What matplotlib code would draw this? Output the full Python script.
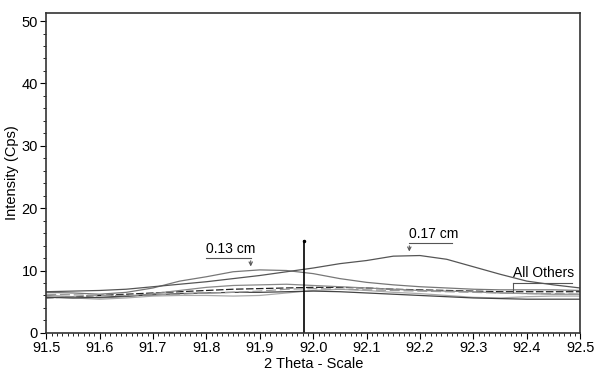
import numpy as np
import matplotlib.pyplot as plt
from matplotlib.ticker import MultipleLocator

plt.rcParams['font.family'] = ['Liberation Sans Narrow', 'Liberation Sans', 'DejaVu Sans']

theta = np.round(np.arange(91.5, 92.501, 0.05), 2)

cm013 = [6.5, 6.4, 6.2, 6.5, 7.2, 8.3, 9.0, 9.8, 10.1, 10.0, 9.5, 8.7, 8.1, 7.7, 7.4, 7.2, 7.0, 6.9, 6.9, 6.9, 6.8]
cm017 = [6.6, 6.7, 6.8, 7.0, 7.4, 7.8, 8.2, 8.7, 9.2, 9.8, 10.4, 11.1, 11.6, 12.3, 12.4, 11.8, 10.6, 9.4, 8.3, 7.7, 7.2]

others = [
    [5.6, 5.8, 6.0, 6.2, 6.4, 6.6, 6.8, 7.0, 7.1, 7.2, 7.3, 7.3, 7.2, 7.0, 6.9, 6.8, 6.7, 6.6, 6.6, 6.6, 6.6],
    [6.0, 5.8, 5.6, 5.8, 6.3, 6.8, 7.3, 7.6, 7.7, 7.8, 7.6, 7.4, 7.2, 7.0, 6.8, 6.7, 6.6, 6.4, 6.3, 6.2, 6.2],
    [5.8, 5.6, 5.4, 5.6, 5.9, 6.0, 6.0, 5.9, 6.0, 6.4, 6.8, 7.0, 6.8, 6.5, 6.3, 6.0, 5.7, 5.6, 5.8, 5.9, 5.9],
    [5.7, 5.6, 5.7, 5.9, 6.1, 6.3, 6.4, 6.5, 6.5, 6.6, 6.7, 6.6, 6.4, 6.2, 6.0, 5.8, 5.6, 5.5, 5.4, 5.4, 5.4],
    [6.2, 6.1, 6.0, 6.0, 6.1, 6.2, 6.4, 6.5, 6.7, 7.0, 7.1, 7.0, 6.9, 6.8, 6.7, 6.6, 6.5, 6.4, 6.3, 6.3, 6.2],
]
other_colors = ['#222222', '#888888', '#aaaaaa', '#444444', '#999999']
other_styles = [(0, (6, 2)), '-', '-', '-', (0, (8, 3))]

marker_x = 91.983
marker_top = 14.8

fig = plt.figure(figsize=(6, 3.8), dpi=100)
ax = fig.add_axes([0.077, 0.124, 0.89, 0.842])

for y, c, ls in zip(others, other_colors, other_styles):
    ax.plot(theta, y, color=c, lw=0.9, ls=ls)
ax.plot(theta, cm013, color='#777777', lw=0.9)
ax.plot(theta, cm017, color='#555555', lw=0.9)

ax.plot([marker_x, marker_x], [0, marker_top], color='black', lw=1.2)
ax.plot(marker_x, marker_top, marker='.', color='black', ms=3)

# labels with leader lines
ax.text(91.80, 12.4, '0.13 cm', fontsize=10, ha='left', va='bottom')
ax.plot([91.80, 91.883], [12.0, 12.0], color='#555555', lw=0.8)
ax.annotate('', xy=(91.883, 10.2), xytext=(91.883, 12.0),
            arrowprops=dict(arrowstyle='->', color='#555555', lw=0.8, mutation_scale=6))
ax.text(92.18, 14.7, '0.17 cm', fontsize=10, ha='left', va='bottom')
ax.plot([92.18, 92.26], [14.4, 14.4], color='#555555', lw=0.8)
ax.annotate('', xy=(92.18, 12.6), xytext=(92.18, 14.4),
            arrowprops=dict(arrowstyle='->', color='#555555', lw=0.8, mutation_scale=6))
ax.text(92.375, 8.4, 'All Others', fontsize=10, ha='left', va='bottom')
ax.plot([92.375, 92.485], [8.0, 8.0], color='#555555', lw=0.8)
ax.plot([92.375, 92.375], [8.0, 6.6], color='#555555', lw=0.8)

ax.set_xlim(91.5, 92.5)
ax.set_ylim(0, 51.3)
ax.xaxis.set_major_locator(MultipleLocator(0.1))
ax.xaxis.set_minor_locator(MultipleLocator(0.01))
ax.yaxis.set_major_locator(MultipleLocator(10))
ax.yaxis.set_minor_locator(MultipleLocator(2))
ax.set_xticklabels([f'{v:.1f}' for v in ax.get_xticks()])
ax.tick_params(which='major', length=4, width=0.8, labelsize=10.5, pad=2)
ax.tick_params(which='minor', length=2, width=0.6)
ax.set_xlabel('2 Theta - Scale', fontsize=10.5, labelpad=1)
ax.set_ylabel('Intensity (Cps)', fontsize=10.5, labelpad=2)
for s in ax.spines.values():
    s.set_linewidth(1.2)
    s.set_color('#333333')

fig.savefig('out.png', dpi=100)
